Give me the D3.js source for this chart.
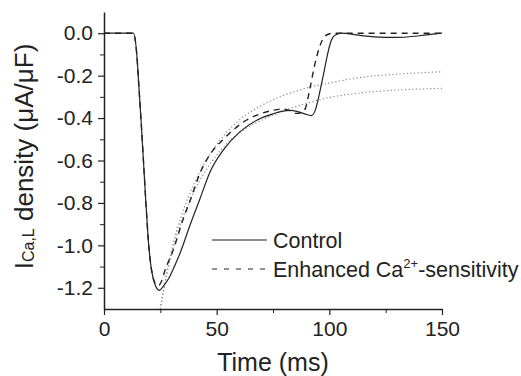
<!DOCTYPE html>
<html>
<head>
<meta charset="utf-8">
<script src="https://cdn.jsdelivr.net/npm/d3@7"></script>
<style>
  html, body { margin: 0; padding: 0; background: #fff; }
  svg { display: block; font-family: Arial, "Liberation Sans", sans-serif; }
</style>
</head>
<body>
<div id="chart"></div>
<script>
// time (ms) / current density (uA/uF)
const controlT = [0, 13, 14.5, 15.5, 16.5, 17.5, 18.6, 19.7, 21, 22.5, 24.5, 26.5, 28.5, 30.8, 34, 38, 42.6, 47, 53, 60.4, 67.8, 75, 82.5, 86, 89, 92, 93.7, 95.5, 97.3, 99, 100.5, 102.5, 105.5, 112, 120, 130, 140, 150]
const controlV = [0, 0, -0.094, -0.254, -0.42, -0.6, -0.8, -0.98, -1.11, -1.18, -1.212, -1.19, -1.16, -1.11, -1.03, -0.91, -0.78, -0.655, -0.55, -0.464, -0.41, -0.38, -0.364, -0.37, -0.38, -0.388, -0.365, -0.29, -0.2, -0.11, -0.045, -0.01, 0, -0.008, -0.017, -0.02, -0.012, 0]

const enhancedT = [0, 13, 14.5, 15.5, 16.5, 17.5, 18.6, 19.7, 21, 22.5, 24, 25.5, 27, 30.8, 35, 38.2, 42.6, 48.5, 53, 58, 63.3, 69.2, 74.4, 79, 82.5, 85.5, 88, 89.5, 91.4, 93.7, 95.5, 97, 99.5, 102, 150]
const enhancedV = [0, 0, -0.094, -0.254, -0.42, -0.6, -0.8, -0.98, -1.11, -1.175, -1.19, -1.17, -1.12, -1.02, -0.88, -0.79, -0.66, -0.55, -0.5, -0.45, -0.409, -0.381, -0.365, -0.357, -0.365, -0.378, -0.372, -0.35, -0.26, -0.14, -0.07, -0.03, -0.005, 0, 0]

// the two dotted fit curves
const fitT = [25, 28, 31, 35, 40, 45, 50, 55, 60, 70, 80, 90, 100, 115, 130, 150]
const fitUpperV = [-1.3, -1.12, -0.98, -0.84, -0.71, -0.605, -0.525, -0.46, -0.41, -0.34, -0.292, -0.258, -0.235, -0.207, -0.193, -0.182]
const fitLowerV = [-1.3, -1.13, -1.0, -0.87, -0.745, -0.65, -0.575, -0.515, -0.47, -0.41, -0.365, -0.33, -0.303, -0.28, -0.268, -0.26]

const xTicks = [0, 50, 100, 150]
const xMinorTicks = [25, 75, 125]
const yTicks = [0, -0.2, -0.4, -0.6, -0.8, -1.0, -1.2]
const yTickLabels = ['0.0', '-0.2', '-0.4', '-0.6', '-0.8', '-1.0', '-1.2']
const yMinorTicks = [-0.1, -0.3, -0.5, -0.7, -0.9, -1.1]

const width = 521
const height = 376
const margin = { top: 12, right: 79, bottom: 67, left: 104 }

const svg = d3.select('#chart')
  .append('svg')
  .attr('width', width)
  .attr('height', height)

const x = d3.scaleLinear()
  .domain([0, 150])
  .range([margin.left, width - margin.right])

const y = d3.scaleLinear()
  .domain([-1.3, 0.1])
  .range([height - margin.bottom, margin.top])

const ink = '#222'

// axes
const xAxis = g => g
  .attr('transform', `translate(0,${height - margin.bottom})`)
  .call(d3.axisBottom(x).tickValues(xTicks).tickSize(6).tickSizeOuter(0).tickPadding(6).tickFormat(d3.format('d')))
  .call(g => g.select('.domain').attr('stroke', ink).attr('stroke-width', 1.5))
  .call(g => g.selectAll('.tick line').attr('stroke', ink).attr('stroke-width', 1.2))
  .call(g => g.selectAll('.tick text').attr('fill', ink).attr('font-size', 21))

svg.append('g').attr('class', 'x').call(xAxis)

svg.append('g')
  .attr('class', 'x-minor')
  .attr('transform', `translate(0,${height - margin.bottom})`)
  .call(d3.axisBottom(x).tickValues(xMinorTicks).tickSize(4).tickFormat(''))
  .call(g => g.select('.domain').remove())
  .call(g => g.selectAll('.tick line').attr('stroke', ink).attr('stroke-width', 1))

const yAxis = g => g
  .attr('transform', `translate(${margin.left},0)`)
  .call(d3.axisLeft(y).tickValues(yTicks).tickSize(6).tickSizeOuter(0).tickPadding(5)
    .tickFormat((d, i) => yTickLabels[i]))
  .call(g => g.select('.domain').attr('stroke', ink).attr('stroke-width', 1.5))
  .call(g => g.selectAll('.tick line').attr('stroke', ink).attr('stroke-width', 1.2))
  .call(g => g.selectAll('.tick text').attr('fill', ink).attr('font-size', 21))

svg.append('g').attr('class', 'y').call(yAxis)

svg.append('g')
  .attr('class', 'y-minor')
  .attr('transform', `translate(${margin.left},0)`)
  .call(d3.axisLeft(y).tickValues(yMinorTicks).tickSize(4).tickFormat(''))
  .call(g => g.select('.domain').remove())
  .call(g => g.selectAll('.tick line').attr('stroke', ink).attr('stroke-width', 1))

// axis titles
svg.append('text')
  .attr('x', (x.range()[0] + x.range()[1]) / 2)
  .attr('y', 371)
  .attr('text-anchor', 'middle')
  .attr('font-size', 25)
  .attr('fill', ink)
  .text('Time (ms)')

const yTitle = svg.append('text')
  .attr('transform', `translate(33,${(y.range()[0] + y.range()[1]) / 2 - 4}) rotate(-90)`)
  .attr('text-anchor', 'middle')
  .attr('font-size', 26)
  .attr('fill', ink)
yTitle.append('tspan').text('I')
yTitle.append('tspan').attr('font-size', 16).attr('dy', 1).text('Ca,L')
yTitle.append('tspan').attr('dy', -1).text(' density (\u03bcA/\u03bcF)')

// curves
const line = d3.line()
  .x(d => x(d[0]))
  .y(d => y(d[1]))
  .curve(d3.curveMonotoneX)

const plot = svg.append('g').attr('class', 'curves').attr('fill', 'none')

plot.selectAll('path.fit')
  .data([d3.zip(fitT, fitUpperV), d3.zip(fitT, fitLowerV)])
  .join('path')
  .attr('class', 'fit')
  .attr('d', line)
  .attr('stroke', '#8a8a8a')
  .attr('stroke-width', 1.2)
  .attr('stroke-dasharray', '1.2,2.4')

plot.append('path')
  .datum(d3.zip(enhancedT, enhancedV))
  .attr('d', line)
  .attr('stroke', ink)
  .attr('stroke-width', 1.4)
  .attr('stroke-dasharray', '6,5')

plot.append('path')
  .datum(d3.zip(controlT, controlV))
  .attr('d', line)
  .attr('stroke', ink)
  .attr('stroke-width', 1.2)

// legend
const legend = svg.append('g').attr('class', 'legend')

legend.append('line')
  .attr('x1', 212).attr('x2', 267)
  .attr('y1', 240).attr('y2', 240)
  .attr('stroke', '#666')
  .attr('stroke-width', 1.5)

legend.append('text')
  .attr('x', 273).attr('y', 248)
  .attr('font-size', 21.5)
  .attr('fill', ink)
  .text('Control')

legend.append('line')
  .attr('x1', 212).attr('x2', 266)
  .attr('y1', 269).attr('y2', 269)
  .attr('stroke', ink)
  .attr('stroke-width', 1.2)
  .attr('stroke-dasharray', '5,7')

const enhText = legend.append('text')
  .attr('x', 273).attr('y', 277)
  .attr('font-size', 21.5)
  .attr('fill', ink)
enhText.append('tspan').text('Enhanced Ca')
enhText.append('tspan').attr('font-size', 13).attr('dy', -9).text('2+')
enhText.append('tspan').attr('dy', 9).text('-sensitivity')
</script>
</body>
</html>
